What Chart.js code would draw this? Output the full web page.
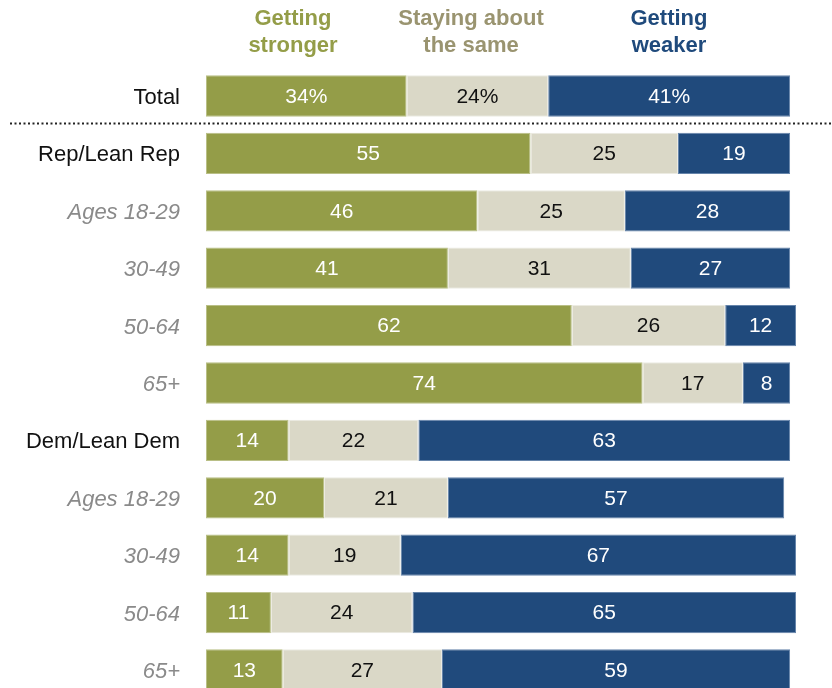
<!DOCTYPE html>
<html>
<head>
<meta charset="utf-8">
<script src="https://cdn.jsdelivr.net/npm/chart.js@4"></script>
<style>
  html, body { margin: 0; padding: 0; background: #fff; overflow: hidden; }
  canvas { display: block; }
</style>
</head>
<body>
<canvas id="chart" width="832" height="720"></canvas>
<script>
// --- Data ---
const rows = ['Total', 'Rep/Lean Rep', 'Ages 18-29', '30-49', '50-64', '65+',
              'Dem/Lean Dem', 'Ages 18-29', '30-49', '50-64', '65+'];
const subRows = [2, 3, 4, 5, 7, 8, 9, 10]; // age rows shown in grey italic
const stronger = [34, 55, 46, 41, 62, 74, 14, 20, 14, 11, 13];
const same     = [24, 25, 25, 31, 26, 17, 22, 21, 19, 24, 27];
const weaker   = [41, 19, 28, 27, 12, 8, 63, 57, 67, 65, 59];
const headers = [
  { lines: ['Getting', 'stronger'], color: '#949d48', x: 293 },
  { lines: ['Staying about', 'the same'], color: '#9a9470', x: 471 },
  { lines: ['Getting', 'weaker'], color: '#1f4a7c', x: 669 }
];

const FONT = "'Liberation Sans', Arial, sans-serif";
const valueColors = ['#ffffff', '#111111', '#ffffff'];

// --- Plugin: value labels, headers, dotted separator ---
const decor = {
  id: 'decor',
  afterDatasetsDraw(chart) {
    const c = chart.ctx;
    c.save();
    c.font = '21px ' + FONT;
    c.textAlign = 'center';
    c.textBaseline = 'middle';
    chart.data.datasets.forEach((ds, di) => {
      chart.getDatasetMeta(di).data.forEach((bar, i) => {
        const v = ds.data[i];
        const cx = (bar.x + bar.base) / 2;
        c.fillStyle = valueColors[di];
        c.fillText(i === 0 ? v + '%' : String(v), cx, bar.y + 1);
      });
    });

    // dotted separator under Total
    const ys = chart.scales.y;
    const sepY = Math.round((ys.getPixelForValue(0) + ys.getPixelForValue(1)) / 2 - 2) + 0.5;
    c.strokeStyle = '#222';
    c.lineWidth = 2;
    c.setLineDash([2, 2.5]);
    c.beginPath();
    c.moveTo(10, sepY);
    c.lineTo(832, sepY);
    c.stroke();
    c.setLineDash([]);

    // column headers
    c.font = 'bold 22px ' + FONT;
    headers.forEach(h => {
      c.fillStyle = h.color;
      h.lines.forEach((t, k) => c.fillText(t, h.x, 19 + k * 27));
    });
    c.restore();
  }
};

new Chart(document.getElementById('chart'), {
  type: 'bar',
  data: {
    labels: rows,
    datasets: [
      { label: 'Getting stronger', data: stronger, backgroundColor: '#949d48', borderColor: '#b9bf86' },
      { label: 'Staying about the same', data: same, backgroundColor: '#dad8c7', borderColor: '#ecebe2' },
      { label: 'Getting weaker', data: weaker, backgroundColor: '#204a7c', borderColor: '#6584aa' }
    ]
  },
  options: {
    indexAxis: 'y',
    responsive: false,
    animation: false,
    layout: { padding: { top: 67.3, bottom: 21.3, left: 0, right: 6.5 } },
    datasets: {
      bar: { borderWidth: 1, categoryPercentage: 1, barPercentage: 0.72, borderSkipped: false }
    },
    scales: {
      x: { stacked: true, min: 0, max: 105, display: false },
      y: {
        stacked: true,
        grid: { display: false, drawTicks: false },
        border: { display: false },
        afterFit: s => {
          s.width = 206;
          // tick padding would otherwise push the plot area in from top/bottom
          s.paddingTop = 0;
          s.paddingBottom = 0;
        },
        ticks: {
          padding: 26,
          labelOffset: 2,
          color: ctx => subRows.includes(ctx.index) ? '#8a8a8a' : '#111',
          font: ctx => ({
            family: FONT,
            size: 22,
            style: subRows.includes(ctx.index) ? 'italic' : 'normal'
          })
        }
      }
    },
    plugins: { legend: { display: false }, tooltip: { enabled: false } }
  },
  plugins: [decor]
});
</script>
</body>
</html>
